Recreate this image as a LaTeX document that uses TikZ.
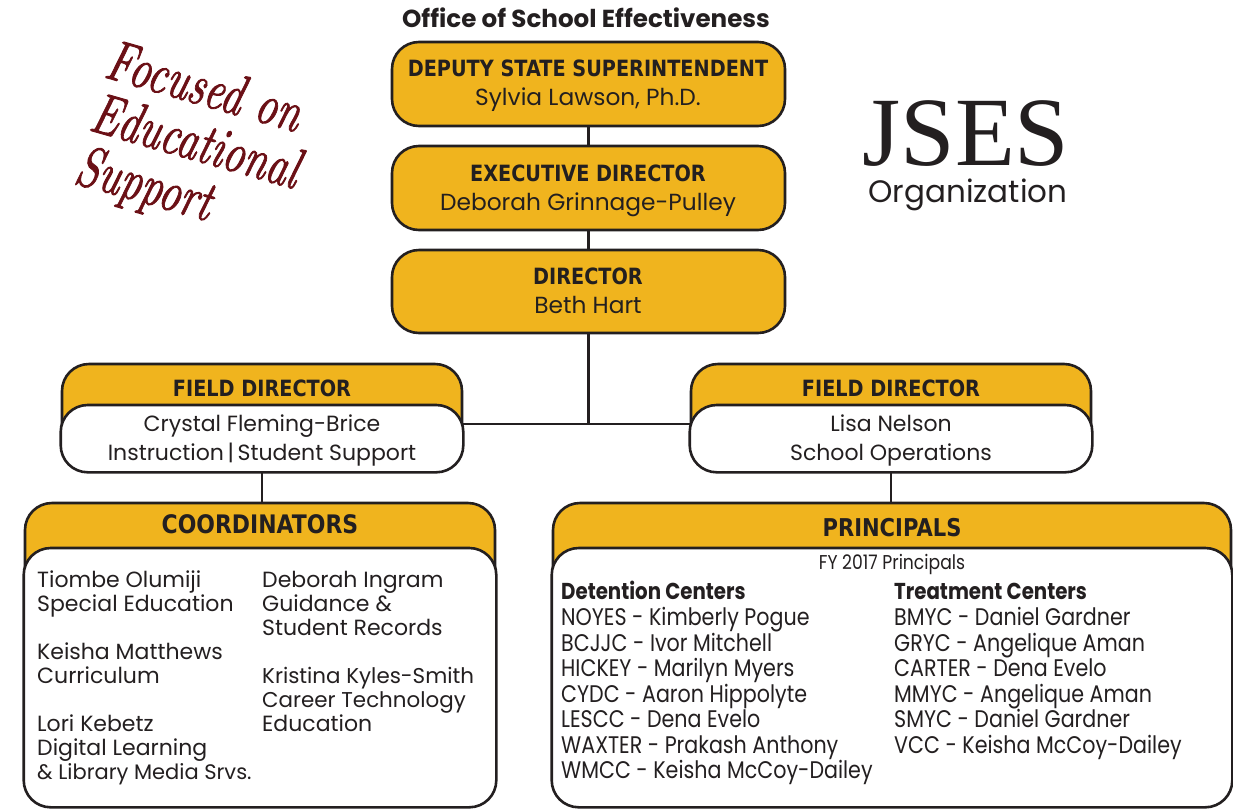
\documentclass[tikz,border=0pt]{standalone}
\usepackage{fontspec}
\newfontfamily\gothic{Poppins}
\newfontfamily\narrowgothic{Poppins}[FakeStretch=0.86]
\newfontfamily\boxhead{DejaVu Sans}[FakeStretch=0.86]
\newfontfamily\logoserif{Liberation Serif}
\newfontfamily\mottofont{lmroman10-italic.otf}[FakeBold=1.6]
\definecolor{gold}{HTML}{F0B41E}
\definecolor{ink}{HTML}{231F20}
\definecolor{wine}{HTML}{6B1016}
\begin{document}
\begin{tikzpicture}[x=1pt,y=-1pt,
  box/.style={draw=ink, line width=2.6pt, fill=gold, rounded corners=27pt, inner sep=0pt},
  panel/.style={draw=ink, line width=2.6pt, fill=white, rounded corners=27pt},
  wire/.style={draw=ink, line width=2.6pt},
  hdr/.style={anchor=base, text=ink, inner sep=0pt, font=\boxhead\bfseries\fontsize{22.4}{24}\selectfont},
  who/.style={anchor=base, text=ink, inner sep=0pt, font=\gothic\fontsize{23.3}{24}\selectfont},
  item/.style={anchor=base west, text=ink, inner sep=0pt, font=\gothic\fontsize{22}{24}\selectfont},
  entry/.style={anchor=base west, text=ink, inner sep=0pt, font=\narrowgothic\fontsize{24}{26}\selectfont},
  group/.style={entry, font=\narrowgothic\bfseries\fontsize{23}{26}\selectfont},
  motto/.style={anchor=north west, align=left, text=wine, inner sep=0pt, rotate=-16, xscale=0.72, font=\mottofont\fontsize{58}{55}\selectfont}]
\useasboundingbox (0,0) rectangle (1233,809);

% heading and logo
\node[anchor=base, text=ink, inner sep=0pt, font=\gothic\bfseries\fontsize{24.6}{26}\selectfont] (title) at (586,27) {Office of School Effectiveness};
\node[anchor=base, text=ink, inner sep=0pt, font=\logoserif\fontsize{98}{98}\selectfont] (jses) at (966,165) {JSES};
\node[anchor=base, text=ink, inner sep=0pt, font=\gothic\fontsize{31}{32}\selectfont] (org) at (968,202) {Organization};

% handwritten motto
\node[motto] (motto) at (114,38) {Focused on\\Educational\\Support};

% leadership chain
\node[box, minimum width=393pt, minimum height=84pt] (deputy) at (588.5,84) {};
\node[box, minimum width=393pt, minimum height=84pt] (exec) at (588.5,188) {};
\node[box, minimum width=393pt, minimum height=83pt] (dir) at (588.5,291.5) {};

\node[hdr] (deputyT) at (588,76) {DEPUTY STATE SUPERINTENDENT};
\node[who] (deputyN) at (588,105) {Sylvia Lawson, Ph.D.};
\node[hdr] (execT) at (588,181) {EXECUTIVE DIRECTOR};
\node[who] (execN) at (588,210) {Deborah Grinnage-Pulley};
\node[hdr] (dirT) at (588,284) {DIRECTOR};
\node[who] (dirN) at (588,313) {Beth Hart};

% field directors
\node[box, minimum width=400pt, minimum height=107pt] (fdl) at (262,417.5) {};
\draw[panel] (fdl.south west) rectangle (fdl.east |- 0,405);
\node[box, minimum width=400pt, minimum height=107pt] (fdr) at (891,417.5) {};
\draw[panel] (fdr.south west) rectangle (fdr.east |- 0,405);

\node[hdr] (fdlT) at (262,396) {FIELD DIRECTOR};
\node[who, font=\gothic\fontsize{22}{24}\selectfont] (fdlN) at (262,431) {Crystal Fleming-Brice};
\node[who, font=\gothic\fontsize{22}{24}\selectfont] (fdlR) at (262,460) {Instruction\,|\,Student Support};
\node[hdr] (fdrT) at (891,396) {FIELD DIRECTOR};
\node[who, font=\gothic\fontsize{22}{24}\selectfont] (fdrN) at (891,431) {Lisa Nelson};
\node[who, font=\gothic\fontsize{22}{24}\selectfont] (fdrR) at (891,460) {School Operations};

% coordinators and principals
\node[box, minimum width=470pt, minimum height=303pt] (coord) at (260,654.5) {};
\draw[panel] (coord.south west) rectangle (coord.east |- 0,548);
\node[box, minimum width=678pt, minimum height=303pt] (prin) at (892,654.5) {};
\draw[panel] (prin.south west) rectangle (prin.east |- 0,548);

\node[hdr, font=\boxhead\bfseries\fontsize{25.5}{26}\selectfont] (coordT) at (260,533) {COORDINATORS};
\node[hdr, font=\boxhead\bfseries\fontsize{24.5}{26}\selectfont] (prinT) at (892,536) {PRINCIPALS};

% connectors
\coordinate (hub) at (588.5,424);
\draw[wire] (deputy.south) -- (exec.north);
\draw[wire] (exec.south) -- (dir.north);
\draw[wire] (dir.south) -- (hub);
\draw[wire] (fdl.east |- hub) -- (fdr.west |- hub);
\draw[wire] (fdl.south) -- (fdl.south |- coord.north);
\draw[wire] (fdr.south) -- (fdr.south |- prin.north);

% coordinator names
\node[item] (c1) at (37,587) {Tiombe Olumiji};
\node[item] (c1r) at (37,611) {Special Education};
\node[item] (c2) at (37,659) {Keisha Matthews};
\node[item] (c2r) at (37,683) {Curriculum};
\node[item] (c3) at (37,731) {Lori Kebetz};
\node[item] (c3r) at (37,755) {Digital Learning};
\node[item, font=\gothic\fontsize{21}{24}\selectfont] (c3s) at (37,779) {\& Library Media Srvs.};
\node[item] (c4) at (262,587) {Deborah Ingram};
\node[item] (c4r) at (262,611) {Guidance \&};
\node[item] (c4s) at (262,635) {Student Records};
\node[item, font=\gothic\fontsize{21.4}{24}\selectfont] (c5) at (262,683) {Kristina Kyles-Smith};
\node[item, font=\gothic\fontsize{21.4}{24}\selectfont] (c5r) at (262,707) {Career Technology};
\node[item] (c5s) at (262,731) {Education};

% principal roster
\node[anchor=base, text=ink, inner sep=0pt, font=\narrowgothic\fontsize{20}{22}\selectfont] (fy) at (892,569) {FY 2017 Principals};
\node[group] (det) at (561,599) {Detention Centers};
\node[entry] (d1) at (561,625) {NOYES - Kimberly Pogue};
\node[entry] (d2) at (561,651) {BCJJC - Ivor Mitchell};
\node[entry] (d3) at (561,676) {HICKEY - Marilyn Myers};
\node[entry] (d4) at (561,702) {CYDC - Aaron Hippolyte};
\node[entry] (d5) at (561,727) {LESCC - Dena Evelo};
\node[entry] (d6) at (561,753) {WAXTER - Prakash Anthony};
\node[entry] (d7) at (561,778) {WMCC - Keisha McCoy-Dailey};
\node[group] (trt) at (894,599) {Treatment Centers};
\node[entry] (t1) at (894,625) {BMYC - Daniel Gardner};
\node[entry] (t2) at (894,651) {GRYC - Angelique Aman};
\node[entry] (t3) at (894,676) {CARTER - Dena Evelo};
\node[entry] (t4) at (894,702) {MMYC - Angelique Aman};
\node[entry] (t5) at (894,727) {SMYC - Daniel Gardner};
\node[entry] (t6) at (894,753) {VCC - Keisha McCoy-Dailey};
\end{tikzpicture}
\end{document}
